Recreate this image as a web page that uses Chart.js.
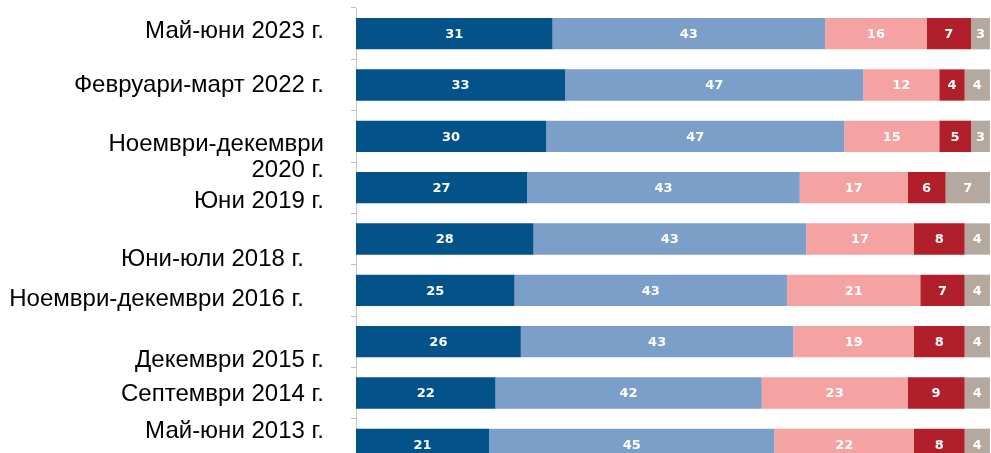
<!DOCTYPE html>
<html>
<head>
<meta charset="utf-8">
<script src="https://cdn.jsdelivr.net/npm/chart.js@4.4.0/dist/chart.umd.min.js"></script>
<style>
  html, body { margin: 0; padding: 0; background: #fff; overflow: hidden; }
  #wrap { width: 991px; height: 478px; position: relative; }
</style>
</head>
<body>
<div id="wrap"><canvas id="chart"></canvas></div>
<script>
// ── Data ────────────────────────────────────────────────────────────────────
const periods = [
  ['Май-юни 2023 г.'],
  ['Февруари-март 2022 г.'],
  ['Ноември-декември', '2020 г.'],
  ['Юни 2019 г.'],
  ['Юни-юли 2018 г.'],
  ['Ноември-декември 2016 г.'],
  ['Декември 2015 г.'],
  ['Септември 2014 г.'],
  ['Май-юни 2013 г.'],
];
const veryFav     = [31, 33, 30, 27, 28, 25, 26, 22, 21];
const somewhatFav = [43, 47, 47, 43, 43, 43, 43, 42, 45];
const somewhatUnf = [16, 12, 15, 17, 17, 21, 19, 23, 22];
const veryUnf     = [7, 4, 5, 6, 8, 7, 8, 9, 8];
const dontKnow    = [3, 4, 3, 7, 4, 4, 4, 4, 4];

// label placement tweaks (the source image has them slightly off the bars)
const labelDx = [0, 0, 0, 0, -20, -20, 0, 0, 0];
const labelDy = [4, 7, 15, 20, 27, 16, 25, 8, -6];
const LINE_H  = 26;

// ── Plugins ─────────────────────────────────────────────────────────────────
const periodLabels = {
  id: 'periodLabels',
  afterDraw(chart) {
    const { ctx, scales: { y } } = chart;
    ctx.save();
    ctx.font = '24px "Liberation Sans", Arial, sans-serif';
    ctx.fillStyle = '#000';
    ctx.textAlign = 'right';
    ctx.textBaseline = 'alphabetic';
    periods.forEach((lines, i) => {
      const yc = y.getPixelForValue(i);
      const xr = y.right - 32 + labelDx[i];
      lines.forEach((t, k) => ctx.fillText(t, xr, yc + labelDy[i] + k * LINE_H));
    });
    ctx.restore();
  }
};

const valueLabels = {
  id: 'valueLabels',
  afterDatasetsDraw(chart) {
    const { ctx } = chart;
    ctx.save();
    ctx.font = 'bold 13px "DejaVu Sans", Verdana, sans-serif';
    ctx.fillStyle = '#fff';
    ctx.textAlign = 'center';
    ctx.textBaseline = 'middle';
    chart.data.datasets.forEach((ds, di) => {
      chart.getDatasetMeta(di).data.forEach((bar, i) => {
        const cx = (bar.x + bar.base) / 2;
        ctx.fillText(String(ds.data[i]), cx, bar.y + 1);
      });
    });
    ctx.restore();
  }
};

// ── Chart ───────────────────────────────────────────────────────────────────
const mk = (label, data, color) => ({
  label, data, backgroundColor: color, borderWidth: 0,
  categoryPercentage: 1, barPercentage: 0.61,
});

new Chart(document.getElementById('chart'), {
  type: 'bar',
  data: {
    labels: periods.map(p => p.join(' ')),
    datasets: [
      mk('Много положително',     veryFav,     '#03528a'),
      mk('Донякъде положително',  somewhatFav, '#7c9fca'),
      mk('Донякъде отрицателно',  somewhatUnf, '#f4a3a2'),
      mk('Много отрицателно',     veryUnf,     '#b01f2a'),
      mk('Не знам',               dontKnow,    '#b5a99f'),
    ],
  },
  options: {
    indexAxis: 'y',
    responsive: true, maintainAspectRatio: false,
    animation: false,
    layout: { padding: { top: 8, right: 1, bottom: 8, left: 0 } },
    plugins: { legend: { display: false }, tooltip: { enabled: false } },
    scales: {
      x: { stacked: true, min: 0, max: 100, display: false },
      y: {
        stacked: true,
        ticks: { display: false },
        grid: { offset: true, drawOnChartArea: false, tickLength: 5, color: '#bdbdbd' },
        border: { display: true, color: '#c8c8c8' },
        afterFit: s => { s.width = 356; },
      },
    },
  },
  plugins: [periodLabels, valueLabels],
});
</script>
</body>
</html>
